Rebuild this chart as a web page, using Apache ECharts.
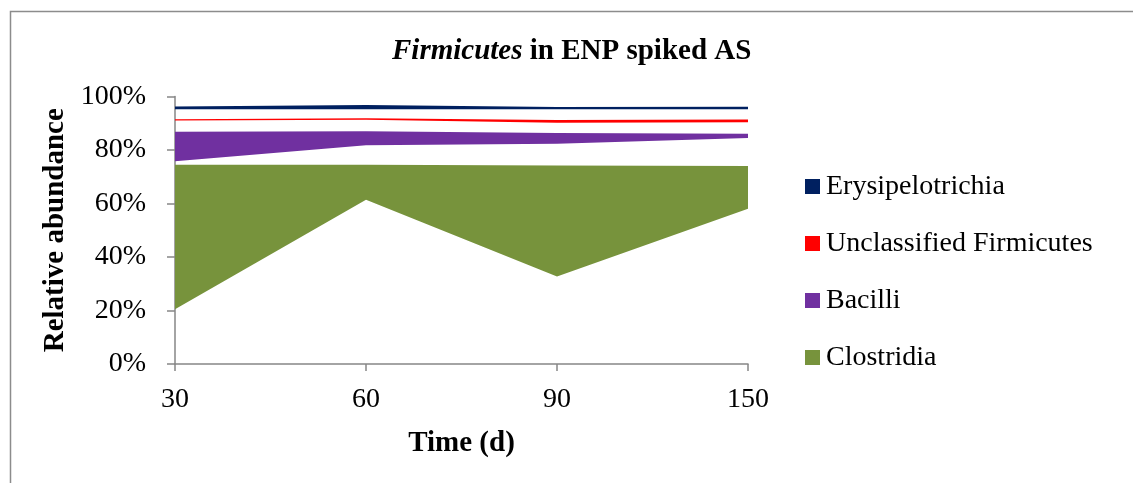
<!DOCTYPE html>
<html>
<head>
<meta charset="utf-8">
<script src="https://cdn.jsdelivr.net/npm/echarts@6/dist/echarts.min.js"></script>
<style>
html,body{margin:0;padding:0;background:#fff;}
#c{width:1133px;height:483px;}
</style>
</head>
<body>
<div id="c"></div>
<script>
// Time points (days)
var categories = ['30', '60', '90', '150'];
// Stacked layers (percent); spacer layers are transparent
var baseSpacer       = [20.5, 61.4, 32.7, 58.0];
var clostridia       = [54.0, 13.1, 41.5, 16.0];
var gapAboveClos     = [1.3, 7.3, 8.1, 10.5];
var bacilli          = [11.0, 5.2, 4.1, 1.6];
var gapAboveBac      = [4.2, 4.3, 3.8, 4.3];
var unclassified     = [0.5, 0.6, 1.0, 1.0];
var gapAboveUnc      = [3.7, 3.3, 4.0, 3.8];
var erysipelotrichia = [1.1, 1.6, 0.9, 1.0];
var yTicks = [0, 20, 40, 60, 80, 100];

var FONT = '"Liberation Serif", "Times New Roman", serif';

function spacer(name, data) {
  return {
    name: name, type: 'line', stack: 'all', data: data,
    symbol: 'none', silent: true, lineStyle: {width: 0, opacity: 0},
    areaStyle: {opacity: 0}, z: 1
  };
}
function layer(name, data, color) {
  return {
    name: name, type: 'line', stack: 'all', data: data,
    symbol: 'none', color: color,
    lineStyle: {width: 0, opacity: 0},
    areaStyle: {color: color, opacity: 1}, z: 2
  };
}

var chart = echarts.init(document.getElementById('c'), null, {renderer: 'canvas'});
chart.setOption({
  animation: false,
  backgroundColor: '#ffffff',
  graphic: [{
    type: 'rect', left: 8, top: 9, silent: true,
    shape: {width: 1200, height: 600},
    style: {fill: 'none', stroke: '#8c8c8c', lineWidth: 1.5}
  }],
  title: {
    text: '{i|Firmicutes}{b| in ENP spiked AS}',
    left: 387, top: 32,
    textStyle: {
      rich: {
        i: {fontFamily: FONT, fontSize: 29, fontWeight: 'bold', fontStyle: 'italic', color: '#000'},
        b: {fontFamily: FONT, fontSize: 29, fontWeight: 'bold', color: '#000'}
      }
    }
  },
  legend: {
    orient: 'vertical', left: 800, top: 167.5, itemGap: 29,
    icon: 'rect', itemWidth: 15, itemHeight: 15,
    data: ['Erysipelotrichia', 'Unclassified Firmicutes', 'Bacilli', 'Clostridia'],
    textStyle: {fontFamily: FONT, fontSize: 28, color: '#000', padding: [0, 0, 0, 1]}
  },
  grid: {left: 175, right: 385, top: 96.5, bottom: 119, containLabel: false},
  xAxis: {
    type: 'category', data: categories, boundaryGap: false,
    name: 'Time (d)', nameLocation: 'middle', nameGap: 65,
    nameTextStyle: {fontFamily: FONT, fontSize: 29, fontWeight: 'bold', color: '#000'},
    axisLine: {lineStyle: {color: '#868686', width: 1.5}},
    axisTick: {alignWithLabel: true, length: 7, lineStyle: {color: '#868686', width: 1.5}},
    axisLabel: {fontFamily: FONT, fontSize: 28, color: '#000', margin: 22}
  },
  yAxis: {
    type: 'value', min: 0, max: 100, interval: 20,
    name: 'Relative abundance', nameLocation: 'middle', nameGap: 100,
    nameTextStyle: {fontFamily: FONT, fontSize: 29, fontWeight: 'bold', color: '#000'},
    axisLine: {show: true, lineStyle: {color: '#868686', width: 1.5}},
    axisTick: {show: true, length: 8, lineStyle: {color: '#868686', width: 1.5}},
    splitLine: {show: false},
    axisLabel: {
      fontFamily: FONT, fontSize: 28, color: '#000', margin: 29,
      formatter: function (v) { return yTicks.indexOf(v) >= 0 ? v + '%' : ''; }
    }
  },
  series: [
    spacer('base', baseSpacer),
    layer('Clostridia', clostridia, '#77933C'),
    spacer('gap1', gapAboveClos),
    layer('Bacilli', bacilli, '#7030A0'),
    spacer('gap2', gapAboveBac),
    layer('Unclassified Firmicutes', unclassified, '#FF0000'),
    spacer('gap3', gapAboveUnc),
    layer('Erysipelotrichia', erysipelotrichia, '#002060')
  ]
});
</script>
</body>
</html>
